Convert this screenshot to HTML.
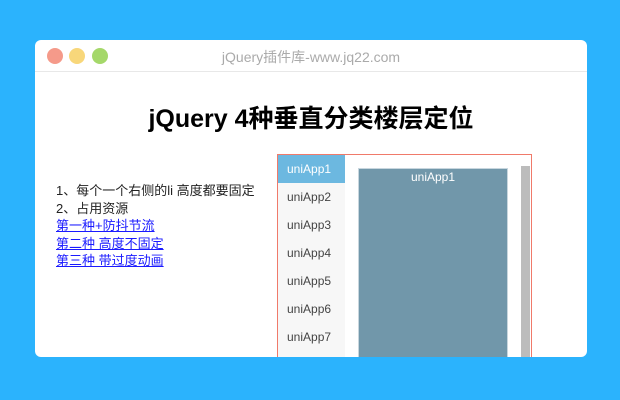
<html><head><style>
body{margin:0;width:620px;height:400px;background:#2bb3fd;position:relative;overflow:hidden;font-family:"Liberation Sans","Noto Sans CJK SC",sans-serif}
.win{position:absolute;left:35px;top:40px;width:552px;height:317px;background:#fff;border-radius:6px;overflow:hidden}
.bar{height:31px;border-bottom:1px solid #e8e8e8;position:relative}
.dot{position:absolute;top:8px;width:16px;height:16px;border-radius:50%}
.t{position:absolute;left:0;right:0;top:7px;text-align:center;color:#aaa;font-size:14px}
h1{position:absolute;left:0;right:0;top:59px;margin:0;text-align:center;font-size:25px;font-weight:bold}
.txt{position:absolute;left:21px;top:142px;font-size:13px;line-height:17.5px;color:#222}
.txt a{color:#1a1aff;text-decoration:underline;display:block}
.box{position:absolute;left:242px;top:114px;width:253px;height:210px;border:1px solid #f07a6a;border-bottom:none}
.menu{position:absolute;left:0;top:0;width:67px;height:210px;background:#f7f7f7}
.menu div{height:28px;line-height:28px;padding-left:9px;font-size:12px;color:#444}
.menu .a{background:#6cb8e0;color:#fff}
.c{position:absolute;left:80px;top:13px;width:148px;height:200px;background:#7197aa;border:1px solid #c8d6de;color:#fff;font-size:12px;text-align:center;line-height:16px}
.sb{position:absolute;left:243px;top:11px;width:9px;height:200px;background:#bcbcbc}
</style></head><body>
<div class="win">
<div class="bar"><div class="dot" style="left:12px;background:#f59a8a"></div><div class="dot" style="left:34px;background:#f8d77a"></div><div class="dot" style="left:57px;background:#a5d86a"></div><div class="t">jQuery插件库-www.jq22.com</div></div>
<h1>jQuery 4种垂直分类楼层定位</h1>
<div class="txt">1、每个一个右侧的li 高度都要固定<br>2、占用资源<a>第一种+防抖节流</a><a>第二种 高度不固定</a><a>第三种 带过度动画</a></div>
<div class="box">
<div class="menu"><div class="a">uniApp1</div><div>uniApp2</div><div>uniApp3</div><div>uniApp4</div><div>uniApp5</div><div>uniApp6</div><div>uniApp7</div></div>
<div class="c">uniApp1</div>
<div class="sb"></div>
</div>
</div>
</body></html>
